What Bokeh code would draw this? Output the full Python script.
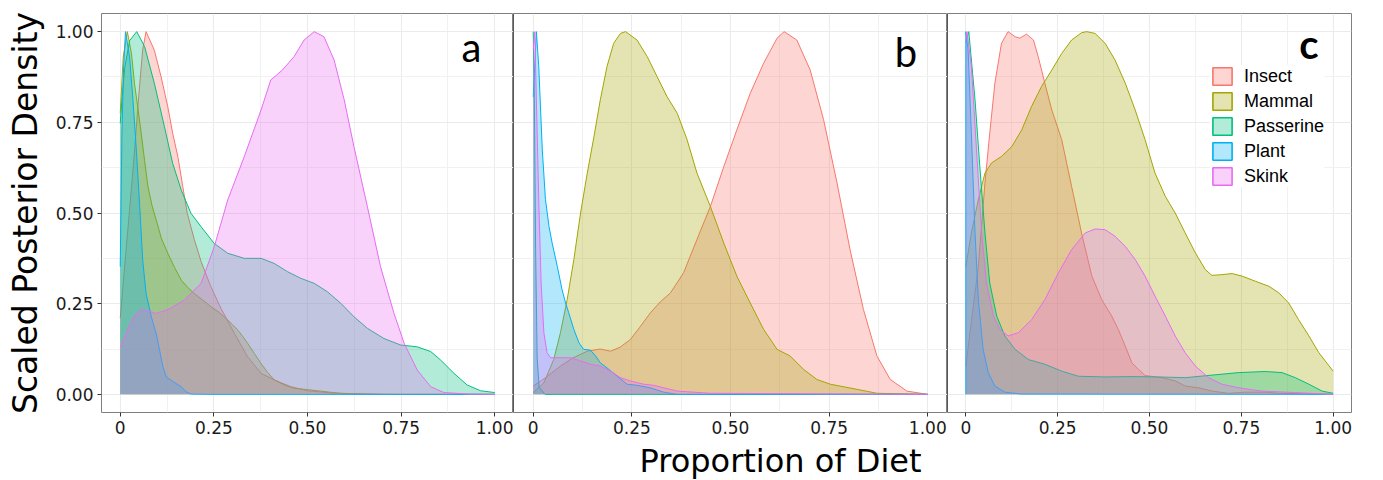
from bokeh.plotting import figure
from bokeh.layouts import row
from bokeh.models import Range1d, FixedTicker, Legend, LegendItem, Label, Span, Title
from bokeh.embed import file_html
from bokeh.resources import INLINE

categories = ["Insect", "Mammal", "Passerine", "Plant", "Skink"]
colors = ["#F8766D", "#A3A500", "#00BF7D", "#00B0F6", "#E76BF3"]
panel_letters = ["a", "b", "c"]
x_ticks = [0, 0.25, 0.5, 0.75, 1.0]
x_tick_labels = ["0", "0.25", "0.50", "0.75", "1.00"]
y_ticks = [0, 0.25, 0.5, 0.75, 1.0]
y_tick_labels = ["0.00", "0.25", "0.50", "0.75", "1.00"]
x_title = "Proportion of Diet"
y_title = "Scaled Posterior Density"

# ---------------- panel a ----------------
a_insect_x = [0, 0.02, 0.035, 0.05, 0.06, 0.069, 0.091, 0.109, 0.127, 0.14, 0.154, 0.167, 0.179, 0.198, 0.216, 0.242, 0.269, 0.305, 0.34, 0.376, 0.411, 0.456, 0.5, 0.571, 0.7, 1.0]
a_insect_y = [0.21, 0.45, 0.63, 0.83, 0.95, 1.0, 0.949, 0.876, 0.793, 0.72, 0.655, 0.573, 0.499, 0.426, 0.366, 0.297, 0.237, 0.168, 0.104, 0.058, 0.04, 0.021, 0.01, 0.003, 0.0, 0.0]
a_mammal_x = [0, 0.008, 0.019, 0.03, 0.038, 0.047, 0.056, 0.065, 0.074, 0.085, 0.096, 0.11, 0.127, 0.145, 0.163, 0.18, 0.198, 0.22, 0.242, 0.265, 0.287, 0.3, 0.314, 0.327, 0.34, 0.358, 0.376, 0.394, 0.411, 0.44, 0.464, 0.5, 0.527, 0.56, 0.589, 0.65, 0.75, 1.0]
a_mammal_y = [0.775, 0.93, 1.0, 0.94, 0.858, 0.79, 0.72, 0.645, 0.573, 0.52, 0.481, 0.43, 0.389, 0.35, 0.315, 0.295, 0.278, 0.26, 0.242, 0.225, 0.205, 0.192, 0.177, 0.16, 0.141, 0.113, 0.085, 0.06, 0.04, 0.025, 0.017, 0.013, 0.01, 0.006, 0.003, 0.001, 0.0, 0.0]
a_passerine_x = [0, 0.005, 0.012, 0.025, 0.044, 0.065, 0.091, 0.118, 0.14, 0.163, 0.189, 0.216, 0.251, 0.287, 0.331, 0.376, 0.411, 0.447, 0.482, 0.518, 0.553, 0.589, 0.624, 0.66, 0.704, 0.749, 0.793, 0.829, 0.855, 0.891, 0.926, 0.962, 1.0]
a_passerine_y = [0.747, 0.82, 0.9, 0.975, 1.0, 0.959, 0.858, 0.738, 0.637, 0.563, 0.499, 0.462, 0.416, 0.389, 0.375, 0.375, 0.361, 0.338, 0.32, 0.306, 0.283, 0.251, 0.214, 0.182, 0.154, 0.136, 0.131, 0.118, 0.095, 0.058, 0.026, 0.01, 0.005]
a_plant_x = [0, 0.0045, 0.009, 0.014, 0.025, 0.034, 0.043, 0.052, 0.06, 0.069, 0.083, 0.096, 0.105, 0.114, 0.123, 0.136, 0.149, 0.163, 0.176, 0.189, 0.25, 1.0]
a_plant_y = [0.352, 0.72, 0.9, 1.0, 0.93, 0.812, 0.674, 0.518, 0.37, 0.278, 0.214, 0.168, 0.122, 0.076, 0.048, 0.039, 0.03, 0.021, 0.007, 0.001, 0.0, 0.0]
a_skink_x = [0, 0.02, 0.04, 0.056, 0.075, 0.096, 0.13, 0.171, 0.216, 0.251, 0.287, 0.331, 0.376, 0.402, 0.433, 0.464, 0.491, 0.518, 0.544, 0.571, 0.598, 0.624, 0.66, 0.695, 0.731, 0.758, 0.793, 0.829, 0.864, 0.93, 1.0]
a_skink_y = [0.129, 0.18, 0.22, 0.234, 0.23, 0.223, 0.235, 0.26, 0.306, 0.407, 0.536, 0.655, 0.784, 0.867, 0.894, 0.931, 0.977, 1.0, 0.986, 0.922, 0.812, 0.683, 0.517, 0.352, 0.223, 0.141, 0.067, 0.021, 0.005, 0.001, 0.0]

# ---------------- panel b ----------------
b_insect_x = [0, 0.03, 0.069, 0.1, 0.137, 0.17, 0.196, 0.22, 0.246, 0.27, 0.297, 0.322, 0.348, 0.381, 0.415, 0.449, 0.483, 0.516, 0.55, 0.584, 0.618, 0.636, 0.668, 0.702, 0.736, 0.77, 0.803, 0.837, 0.871, 0.905, 0.947, 1.0]
b_insect_y = [0.023, 0.045, 0.078, 0.1, 0.119, 0.125, 0.119, 0.13, 0.151, 0.185, 0.225, 0.255, 0.28, 0.335, 0.427, 0.518, 0.628, 0.729, 0.83, 0.913, 0.982, 1.0, 0.977, 0.894, 0.757, 0.583, 0.399, 0.234, 0.106, 0.041, 0.009, 0.0]
b_mammal_x = [0, 0.027, 0.052, 0.069, 0.086, 0.103, 0.12, 0.137, 0.154, 0.17, 0.187, 0.204, 0.221, 0.234, 0.263, 0.289, 0.314, 0.339, 0.365, 0.39, 0.415, 0.449, 0.483, 0.516, 0.55, 0.584, 0.618, 0.651, 0.685, 0.719, 0.753, 0.82, 0.871, 1.0]
b_mammal_y = [0.005, 0.032, 0.096, 0.17, 0.261, 0.372, 0.5, 0.61, 0.711, 0.812, 0.904, 0.968, 0.995, 1.0, 0.977, 0.931, 0.876, 0.821, 0.775, 0.702, 0.61, 0.518, 0.417, 0.326, 0.252, 0.179, 0.124, 0.106, 0.069, 0.041, 0.028, 0.014, 0.003, 0.0]
b_passerine_x = [0, 0.003, 0.006, 0.01, 0.015, 0.03, 1.0]
b_passerine_y = [1.0, 0.8, 0.4, 0.1, 0.02, 0.0, 0.0]
b_plant_x = [0, 0.008, 0.014, 0.023, 0.031, 0.04, 0.048, 0.061, 0.073, 0.082, 0.09, 0.103, 0.116, 0.128, 0.145, 0.158, 0.17, 0.187, 0.213, 0.238, 0.263, 0.297, 0.331, 0.365, 1.0]
b_plant_y = [0.82, 1.0, 0.904, 0.674, 0.537, 0.463, 0.417, 0.353, 0.289, 0.252, 0.225, 0.179, 0.142, 0.124, 0.122, 0.106, 0.087, 0.073, 0.05, 0.028, 0.025, 0.018, 0.006, 0.0, 0.0]
b_skink_x = [0, 0.004, 0.008, 0.014, 0.02, 0.027, 0.035, 0.044, 0.069, 0.095, 0.12, 0.145, 0.17, 0.196, 0.221, 0.246, 0.28, 0.305, 0.331, 0.365, 0.449, 1.0]
b_skink_y = [0.95, 1.0, 0.812, 0.537, 0.307, 0.17, 0.115, 0.101, 0.101, 0.101, 0.092, 0.083, 0.078, 0.064, 0.046, 0.037, 0.028, 0.025, 0.018, 0.009, 0.003, 0.0]

# ---------------- panel c ----------------
c_insect_x = [0, 0.015, 0.034, 0.052, 0.065, 0.079, 0.097, 0.115, 0.134, 0.147, 0.165, 0.184, 0.197, 0.215, 0.234, 0.261, 0.288, 0.315, 0.343, 0.37, 0.397, 0.415, 0.434, 0.452, 0.47, 0.488, 0.534, 0.57, 0.597, 0.634, 0.67, 0.715, 0.76, 0.815, 0.852, 1.0]
c_insect_y = [0.078, 0.2, 0.353, 0.583, 0.72, 0.858, 0.968, 1.0, 0.986, 0.982, 0.993, 0.977, 0.931, 0.858, 0.784, 0.702, 0.573, 0.445, 0.326, 0.261, 0.216, 0.179, 0.133, 0.087, 0.069, 0.052, 0.046, 0.037, 0.023, 0.018, 0.009, 0.003, 0.006, 0.006, 0.003, 0.0]
c_mammal_x = [0, 0.015, 0.034, 0.052, 0.07, 0.097, 0.125, 0.152, 0.179, 0.206, 0.234, 0.261, 0.288, 0.315, 0.329, 0.352, 0.379, 0.406, 0.434, 0.461, 0.488, 0.515, 0.543, 0.57, 0.597, 0.625, 0.652, 0.67, 0.697, 0.725, 0.752, 0.788, 0.825, 0.852, 0.879, 0.906, 0.934, 0.961, 1.0]
c_mammal_y = [0.353, 0.445, 0.537, 0.61, 0.638, 0.656, 0.683, 0.729, 0.794, 0.849, 0.894, 0.94, 0.977, 0.997, 1.0, 0.995, 0.968, 0.922, 0.858, 0.784, 0.702, 0.61, 0.546, 0.5, 0.445, 0.39, 0.344, 0.328, 0.33, 0.333, 0.326, 0.312, 0.298, 0.28, 0.252, 0.206, 0.161, 0.115, 0.064]
c_passerine_x = [0, 0.008, 0.025, 0.038, 0.052, 0.065, 0.084, 0.106, 0.134, 0.17, 0.215, 0.261, 0.306, 0.379, 0.452, 0.525, 0.597, 0.67, 0.743, 0.815, 0.861, 0.897, 0.934, 0.97, 1.0]
c_passerine_y = [0.97, 1.0, 0.812, 0.628, 0.445, 0.307, 0.216, 0.161, 0.124, 0.096, 0.083, 0.064, 0.05, 0.048, 0.049, 0.048, 0.046, 0.053, 0.06, 0.063, 0.06, 0.046, 0.028, 0.009, 0.003]
c_plant_x = [0, 0, 0.006, 0.015, 0.025, 0.034, 0.047, 0.061, 0.079, 0.106, 0.15, 1.0]
c_plant_y = [0, 1.0, 0.95, 0.72, 0.445, 0.261, 0.124, 0.06, 0.023, 0.006, 0.001, 0.0]
c_skink_x = [0, 0.003, 0.015, 0.029, 0.043, 0.056, 0.075, 0.093, 0.115, 0.143, 0.179, 0.215, 0.252, 0.288, 0.325, 0.352, 0.379, 0.406, 0.434, 0.461, 0.488, 0.515, 0.543, 0.57, 0.597, 0.625, 0.661, 0.697, 0.743, 0.806, 0.897, 1.0]
c_skink_y = [0.98, 1.0, 0.904, 0.674, 0.445, 0.307, 0.216, 0.179, 0.161, 0.17, 0.206, 0.261, 0.335, 0.399, 0.445, 0.456, 0.454, 0.436, 0.408, 0.372, 0.326, 0.271, 0.216, 0.161, 0.115, 0.078, 0.046, 0.028, 0.018, 0.009, 0.005, 0.0]

panels = [
    [(a_insect_x, a_insect_y), (a_mammal_x, a_mammal_y), (a_passerine_x, a_passerine_y), (a_plant_x, a_plant_y), (a_skink_x, a_skink_y)],
    [(b_insect_x, b_insect_y), (b_mammal_x, b_mammal_y), (b_passerine_x, b_passerine_y), (b_plant_x, b_plant_y), (b_skink_x, b_skink_y)],
    [(c_insect_x, c_insect_y), (c_mammal_x, c_mammal_y), (c_passerine_x, c_passerine_y), (c_plant_x, c_plant_y), (c_skink_x, c_skink_y)],
]

FONT = "DejaVu Sans"
frame_widths = [412, 434, 404]
letter_pos = [(0.938, 0.958), (0.945, 0.945), (0.934, 0.967)]
minor = [(x_ticks[i] + x_ticks[i + 1]) / 2 for i in range(len(x_ticks) - 1)]
yminor = [(y_ticks[i] + y_ticks[i + 1]) / 2 for i in range(len(y_ticks) - 1)]
nan = float("nan")

figs = []
for k, series in enumerate(panels):
    first = k == 0
    p = figure(frame_width=frame_widths[k], frame_height=399,
               x_range=Range1d(-0.05, 1.05), y_range=Range1d(-0.05, 1.05),
               output_backend="svg", toolbar_location=None,
               y_axis_location="left" if first else None,
               min_border_top=13, min_border_bottom=66,
               min_border_left=101 if first else 0,
               min_border_right=5 if k == 2 else 0)
    p.background_fill_color = "white"
    p.outline_line_color = "#7F7F7F"
    p.outline_line_width = 1

    p.xaxis.ticker = FixedTicker(ticks=x_ticks, minor_ticks=minor)
    p.xaxis.major_label_overrides = dict(zip(x_ticks, x_tick_labels))
    p.xgrid.ticker = FixedTicker(ticks=x_ticks, minor_ticks=minor)
    p.ygrid.ticker = FixedTicker(ticks=y_ticks, minor_ticks=yminor)
    for g in (p.xgrid, p.ygrid):
        g.grid_line_color = "#EBEBEB"
        g.grid_line_width = 1.1
        g.minor_grid_line_color = "#F1F1F1"
        g.minor_grid_line_width = 1

    axes = [p.xaxis]
    if first:
        p.yaxis.ticker = FixedTicker(ticks=y_ticks, minor_ticks=yminor)
        p.yaxis.major_label_overrides = dict(zip(y_ticks, y_tick_labels))
        p.yaxis.axis_label = y_title
        p.yaxis.axis_label_text_font = FONT
        p.yaxis.axis_label_text_font_size = "33px"
        p.yaxis.axis_label_text_font_style = "normal"
        p.yaxis.axis_label_text_color = "black"
        p.yaxis.axis_label_standoff = 8
        axes.append(p.yaxis)
    for ax in axes:
        ax.axis_line_color = None
        ax.major_tick_line_color = "#333333"
        ax.major_tick_out = 4
        ax.major_tick_in = 0
        ax.minor_tick_line_color = None
        ax.major_label_text_font = FONT
        ax.major_label_text_font_size = "17px"
        ax.major_label_text_color = "#1A1A1A"
        ax.major_label_standoff = 4

    if not first:
        p.add_layout(Span(location=-0.05, dimension="height", line_color="#333333", line_width=1))

    for (xs, ys), col in zip(series, colors):
        p.varea(x=xs, y1=[0] * len(xs), y2=ys, fill_color=col, fill_alpha=0.3)
        p.line(x=xs, y=ys, line_color=col, line_width=1)

    lx, ly = letter_pos[k]
    p.add_layout(Label(x=lx, y=ly, text=panel_letters[k], text_align="center",
                       text_baseline="alphabetic", text_font="Lato", text_font_size="40px",
                       text_font_style="bold" if k == 2 else "normal", text_color="black"))

    if k == 1:
        p.add_layout(Title(text=x_title, align="left", offset=126, standoff=7,
                           text_font=FONT, text_font_size="32px", text_font_style="normal",
                           text_color="black"), "below")

    if k == 2:
        items = []
        for cat, col in zip(categories, colors):
            r = p.quad(left=[nan], right=[nan], top=[nan], bottom=[nan], fill_color=col, fill_alpha=0.3,
                       line_color=col, line_width=1.6)
            items.append(LegendItem(label=cat, renderers=[r]))
        legend = Legend(items=items, location=(263, 225), glyph_width=24, glyph_height=22,
                        label_text_font="Liberation Sans", label_text_font_size="18px",
                        label_text_color="black",
                        label_standoff=10, spacing=3, padding=8, margin=0,
                        border_line_color=None, background_fill_color="white",
                        background_fill_alpha=1.0)
        p.add_layout(legend)
    figs.append(p)

layout = row(*figs)
open("out.html", "w").write(file_html(layout, INLINE))
